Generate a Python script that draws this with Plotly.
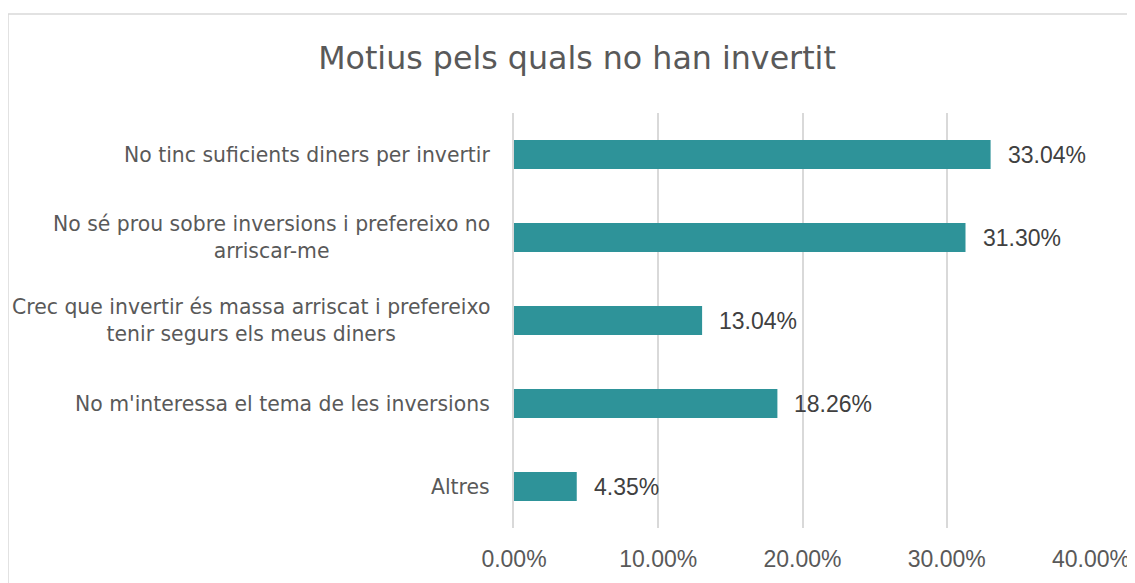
import plotly.graph_objects as go

# data
categories = [
    "No tinc suficients diners per invertir",
    "No sé prou sobre inversions i prefereixo no<br>arriscar-me",
    "Crec que invertir és massa arriscat i prefereixo<br>tenir segurs els meus diners",
    "No m'interessa el tema de les inversions",
    "Altres",
]
values = [0.3304, 0.3130, 0.1304, 0.1826, 0.0435]
x_ticks = [0.0, 0.1, 0.2, 0.3, 0.4]
x_tick_labels = ["0.00%", "10.00%", "20.00%", "30.00%", "40.00%"]

BAR = "#2E9399"
GREY = "#595959"
GRID = "#D9D9D9"
WIDE = "DejaVu Sans, Verdana, sans-serif"
ARIAL = "Liberation Sans, Arial, sans-serif"

# the page adds an 8px body margin, so everything is laid out 8px up/left
L, R, T, B = 506, 52, 105, 63
PW = 1135 - L - R
PH = 583 - T - B

fig = go.Figure()
fig.add_trace(go.Bar(
    x=values,
    y=categories,
    orientation="h",
    marker=dict(color=BAR, line=dict(width=0)),
    hoverinfo="skip",
))

# category labels, centred multi-line like the original
for cat in categories:
    fig.add_annotation(
        x=0, xref="paper", xshift=-22, xanchor="right",
        y=cat, yref="y", yanchor="middle",
        text=cat, showarrow=False, align="center",
        font=dict(family=WIDE, size=20.4, color=GREY),
    )

# value labels to the right of each bar
for cat, v in zip(categories, values):
    fig.add_annotation(
        x=v, xref="x", xshift=15, xanchor="left",
        y=cat, yref="y", yanchor="middle",
        text=f"{v * 100:.2f}%", showarrow=False,
        font=dict(family=ARIAL, size=23, color="#404040"),
    )

# chart border
fig.add_shape(
    type="rect", xref="paper", yref="paper",
    x0=-L / PW, x1=1.2, y0=-0.5, y1=1 + (T - 6) / PH,
    line=dict(color=GRID, width=1.5), fillcolor="rgba(0,0,0,0)", layer="below",
)

fig.update_layout(
    width=1135, height=583,
    margin=dict(l=L, r=R, t=T, b=B),
    paper_bgcolor="white", plot_bgcolor="white",
    title=dict(
        text="Motius pels quals no han invertit",
        x=569 / 1135, xref="container", xanchor="center",
        y=1 - 50 / 583, yref="container", yanchor="middle",
        font=dict(family=WIDE, size=31.7, color=GREY),
    ),
    bargap=0.65,
    showlegend=False,
    font=dict(family=ARIAL, color=GREY),
)
fig.update_xaxes(
    range=[0, 0.4],
    tickvals=x_ticks, ticktext=x_tick_labels,
    showgrid=True, gridcolor=GRID, gridwidth=1.5,
    zeroline=False, showline=False,
    tickfont=dict(family=ARIAL, size=23, color=GREY),
    ticklabelstandoff=15,
)
fig.update_yaxes(
    categoryorder="array", categoryarray=categories,
    autorange="reversed",
    showticklabels=False, showgrid=False,
    showline=True, linecolor=GRID, linewidth=1.5,
    zeroline=False,
)

fig.write_html("out.html")
